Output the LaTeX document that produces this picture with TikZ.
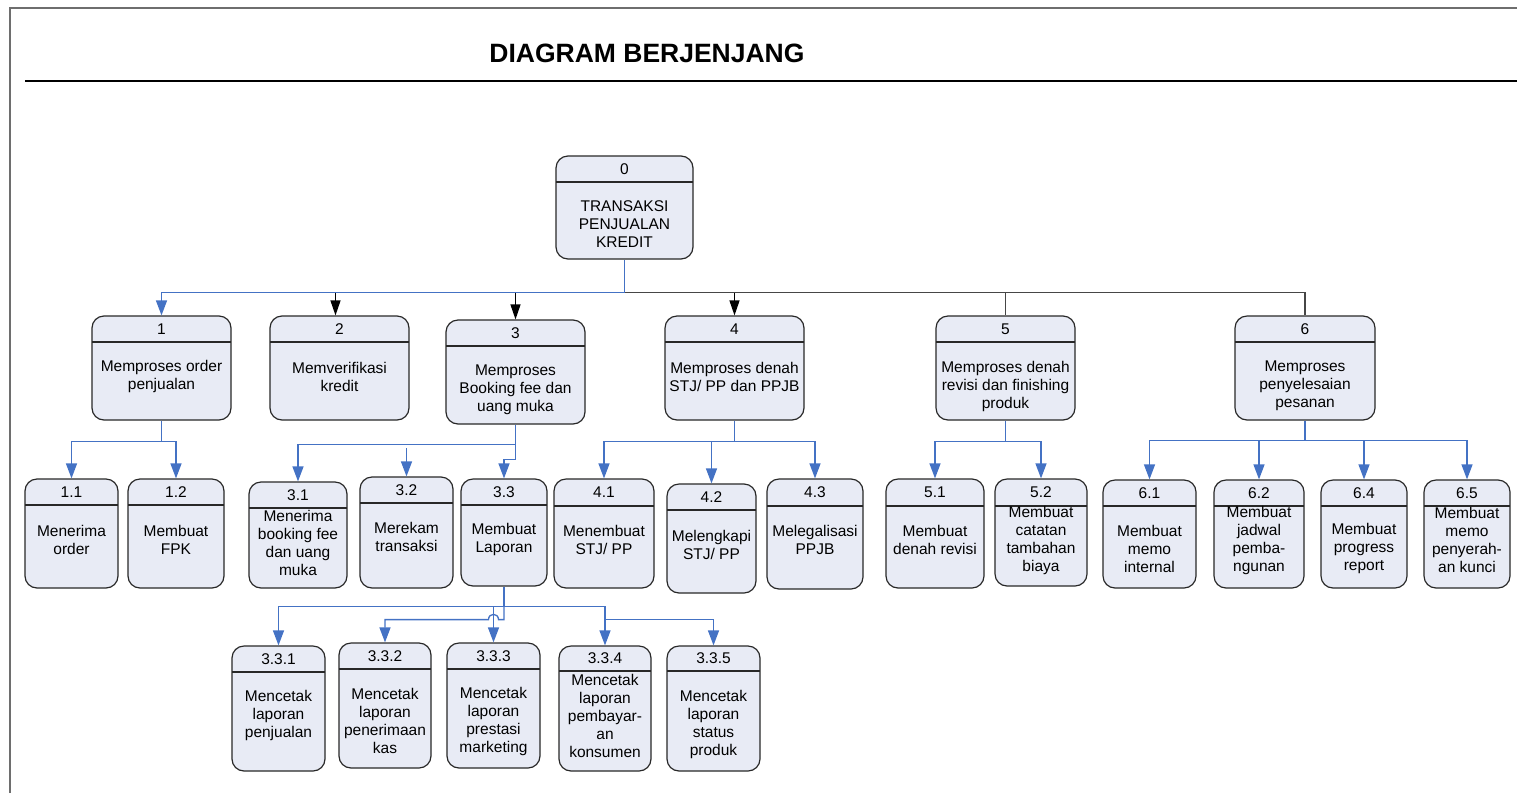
\documentclass[tikz,border=0pt]{standalone}
\usepackage{fontspec}
\setmainfont{Liberation Sans}
\usetikzlibrary{arrows.meta,calc}

\definecolor{boxfill}{RGB}{232,235,245}
\definecolor{boxline}{RGB}{40,40,40}
\definecolor{linkblue}{RGB}{68,114,196}
\definecolor{linkgray}{RGB}{70,70,70}
\definecolor{framegray}{RGB}{110,110,110}

\tikzset{
  procbox/.style={draw=boxline, fill=boxfill, rounded corners=12pt, line width=1.2pt, inner sep=0pt},
  divline/.style={draw=boxline, line width=1.2pt},
  numtxt/.style={inner sep=0pt, font=\fontsize{15.5}{18}\selectfont},
  bodytxt/.style={inner sep=0pt, align=center, font=\fontsize{15.5}{18}\selectfont},
  bluelink/.style={color=linkblue, line width=1.3pt, -{Triangle[length=15pt,width=11pt]}},
  blacklink/.style={color=black, line width=1.2pt, -{Triangle[length=15pt,width=10pt]}},
  graylink/.style={color=linkgray, line width=1.2pt},
}

% process box: name, left, top, right, bottom, divider y, number, text centre y, text
\newcommand\pbox[9]{%
  \node[procbox, minimum width={#4-#2}, minimum height={#5-#3}] (#1) at ({(#2+#4)/2},{(#3+#5)/2}) {};
  \draw[divline] (#2,#6) -- (#4,#6);
  \node[numtxt] (#1-n) at ({(#2+#4)/2},{(#3+#6)/2}) {#7};
  \node[bodytxt] (#1-t) at ({(#2+#4)/2},{#8+1.5}) {#9};
}

\begin{document}
\begin{tikzpicture}[x=1pt,y=-1pt]
\useasboundingbox (0,0) rectangle (1517,793);

% page frame and title
\draw[framegray, line width=2pt] (10,793) -- (10,8) -- (1517,8);
\draw[black, line width=1.5pt] (25,81) -- (1517,81);
\node[font=\bfseries\fontsize{26.5}{30}\selectfont, anchor=base, inner sep=0pt] (title) at (647,62) {DIAGRAM BERJENJANG};

% level 0 and 1
\pbox{n0}{556}{156}{693}{259}{182}{0}{223}{TRANSAKSI\\PENJUALAN\\KREDIT}
\pbox{n1}{92}{316}{231}{420}{342}{1}{375}{Memproses order\\penjualan}
\pbox{n2}{270}{316}{409}{420}{342}{2}{375}{Memverifikasi\\kredit}
\pbox{n3}{446}{320}{585}{424}{346}{3}{388}{Memproses\\Booking fee dan\\uang muka}
\pbox{n4}{665}{316}{804}{420}{342}{4}{375}{Memproses denah\\STJ/ PP dan PPJB}
\pbox{n5}{936}{316}{1075}{420}{342}{5}{385}{Memproses denah\\revisi dan finishing\\produk}
\pbox{n6}{1235}{316}{1375}{420}{342}{6}{384.5}{Memproses\\penyelesaian\\pesanan}

% level 2
\pbox{n11}{25}{479}{118}{588}{505}{1.1}{538}{Menerima\\order}
\pbox{n12}{128}{479}{224}{588}{505}{1.2}{538}{Membuat\\FPK}
\pbox{n31}{249}{482}{347}{588}{508}{3.1}{541}{Menerima\\booking fee\\dan uang\\muka}
\pbox{n32}{360}{477}{453}{588}{503}{3.2}{535.5}{Merekam\\transaksi}
\pbox{n33}{461}{479}{547}{586}{505}{3.3}{538}{Membuat\\Laporan}
\pbox{n41}{554}{479}{654}{588}{506}{4.1}{538}{Menembuat\\STJ/ PP}
\pbox{n42}{667}{484}{756}{593}{510}{4.2}{543}{Melengkapi\\STJ/ PP}
\pbox{n43}{767}{479}{863}{589}{506}{4.3}{538}{Melegalisasi\\PPJB}
\pbox{n51}{886}{479}{984}{588}{506}{5.1}{538}{Membuat\\denah revisi}
\pbox{n52}{995}{479}{1087}{586}{506}{5.2}{538.5}{Membuat\\catatan\\tambahan\\biaya}
\pbox{n61}{1103}{480}{1196}{588}{506}{6.1}{547}{Membuat\\memo\\internal}
\pbox{n62}{1214}{480}{1304}{588}{506}{6.2}{538.5}{Membuat\\jadwal\\pemba-\\ngunan}
\pbox{n64}{1321}{480}{1407}{588}{506}{6.4}{547}{Membuat\\progress\\report}
\pbox{n65}{1424}{480}{1510}{588}{506}{6.5}{538.5}{Membuat\\memo\\penyerah-\\an kunci}

% level 3
\pbox{n331}{232}{646}{325}{771}{672}{3.3.1}{714}{Mencetak\\laporan\\penjualan}
\pbox{n332}{339}{643}{431}{768}{669}{3.3.2}{719.5}{Mencetak\\laporan\\penerimaan\\kas}
\pbox{n333}{447}{643}{540}{768}{669}{3.3.3}{719.5}{Mencetak\\laporan\\prestasi\\marketing}
\pbox{n334}{559}{646}{651}{771}{671}{3.3.4}{714}{Mencetak\\laporan\\pembayar-\\an\\konsumen}
\pbox{n335}{667}{646}{760}{771}{671}{3.3.5}{723}{Mencetak\\laporan\\status\\produk}

% root to level 1
\coordinate (rootbar) at ($(n0.south)+(0,33)$);
\draw[graylink] (rootbar) -| (n6.north);
\draw[graylink] (n5.north |- rootbar) -- (n5.north);
\draw[bluelink] (n0.south) -- (rootbar) -| (n1.north);
\coordinate (n2in) at ($(n2.north)+(-4,0)$);
\draw[blacklink] (n2in |- rootbar) -- (n2in);
\draw[blacklink] (n3.north |- rootbar) -- (n3.north);
\draw[blacklink] (n4.north |- rootbar) -- (n4.north);

% level 1 to level 2
\draw[bluelink] (n1.south) -- ++(0,21) -| (n11.north);
\draw[bluelink] (n1.south) -- ++(0,21) -| (n12.north);
\draw[bluelink] (n3.south) -- ++(0,20) -| (n31.north);
\coordinate (n32in) at ($(n32.north)+(0,-28)$);
\draw[bluelink] (n32in) -- (n32.north);
\draw[bluelink] (n3.south) -- ++(0,35) -| (n33.north);
\draw[bluelink] (n4.south) -- ++(0,21) -| (n41.north);
\draw[bluelink] (n4.south) -- ++(0,21) -| (n42.north);
\draw[bluelink] (n4.south) -- ++(0,21) -| (n43.north);
\draw[bluelink] (n5.south) -- ++(0,21) -| (n51.north);
\draw[bluelink] (n5.south) -- ++(0,21) -| (n52.north);
\draw[bluelink] (n6.south) -- ++(0,20) -| (n61.north);
\draw[bluelink] (n6.south) -- ++(0,20) -| (n62.north);
\draw[bluelink] (n6.south) -- ++(0,20) -| (n64.north);
\draw[bluelink] (n6.south) -- ++(0,20) -| (n65.north);

% level 2 to level 3
\coordinate (rep1) at ($(n33.south)+(0,20)$);
\coordinate (rep2) at ($(n33.south)+(0,33)$);
\coordinate (hop) at (n333.north |- rep2);
\draw[bluelink] (n33.south) -- (rep1) -| (n331.north);
\draw[bluelink] (rep1) -| (n334.north);
\draw[bluelink] (n333.north |- rep1) -- (n333.north);
\draw[bluelink] (rep1) -- (rep2) -- ($(hop)+(5,0)$)
  .. controls ($(hop)+(5,-7)$) and ($(hop)+(-5,-7)$) .. ($(hop)+(-5,0)$) -| (n332.north);
\draw[bluelink] (n334.north |- rep2) -| (n335.north);
\end{tikzpicture}
\end{document}
